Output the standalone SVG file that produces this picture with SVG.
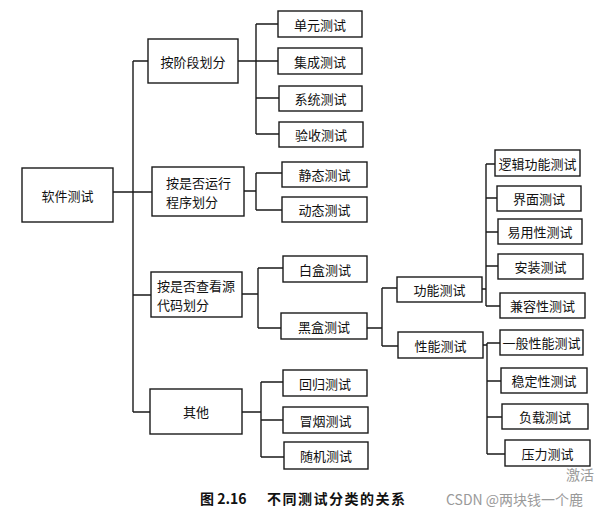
<svg xmlns="http://www.w3.org/2000/svg" width="615" height="516" viewBox="0 0 615 516">
<style>
.box{fill:#fff;stroke:#1a1a1a;stroke-width:1.4}
.t{font-family:"Noto Sans CJK SC","Noto Sans CJK JP",sans-serif;font-size:13px;fill:#111;text-anchor:middle;dominant-baseline:central}
.tl{font-family:"Noto Sans CJK SC","Noto Sans CJK JP",sans-serif;font-size:13px;fill:#111;dominant-baseline:central}
.cap{font-family:"Noto Sans CJK SC","Noto Sans CJK JP",sans-serif;font-size:14px;font-weight:bold;fill:#111}
.wm{font-family:"Noto Sans CJK SC","Noto Sans CJK JP",sans-serif;font-size:14px;fill:#9a9a9a}
#connectors path{fill:none;stroke:#1a1a1a;stroke-width:1.4}
</style>
<rect width="615" height="516" fill="#fff"/>
<g id="connectors">
<path d="M113 192H133M133 61V412M133 61H148M133 192H152M133 295H151M133 412H150"/>
<path d="M238 61H256M256 24V134M256 24H278M256 61H278M256 98H279M256 134H279"/>
<path d="M244 191H256M256 173V210M256 173H282M256 210H282"/>
<path d="M242 294H258M258 268V328M258 268H283M258 328H281"/>
<path d="M367 328H382M382 288V346M382 288H397M382 346H398"/>
<path d="M482 289H486M486 164V306M486 164H495M486 198H497M486 232H498M486 266H498M486 306H500"/>
<path d="M483 345H487M487 343V454M487 343H500M487 381H501M487 417H502M487 454H505"/>
<path d="M242 412H261M261 382V457M261 382H283M261 420H283M261 457H284"/>
</g>
<g id="n-root"><rect class="box" x="22" y="168" width="91" height="54"/><text class="t" x="67.5" y="195">软件测试</text></g>
<g id="n-stage"><rect class="box" x="148" y="39" width="90" height="44"/><text class="t" x="193" y="61">按阶段划分</text></g>
<g id="n-unit"><rect class="box" x="278" y="11" width="84" height="26"/><text class="t" x="320" y="24">单元测试</text></g>
<g id="n-integ"><rect class="box" x="278" y="48" width="84" height="26"/><text class="t" x="320" y="61">集成测试</text></g>
<g id="n-sys"><rect class="box" x="279" y="86" width="83" height="25"/><text class="t" x="320.5" y="98.5">系统测试</text></g>
<g id="n-accept"><rect class="box" x="279" y="122" width="84" height="25"/><text class="t" x="321" y="134.5">验收测试</text></g>
<g id="n-run"><rect class="box" x="152" y="167" width="92" height="49"/><text class="tl" x="166" y="182">按是否运行</text><text class="tl" x="166" y="201">程序划分</text></g>
<g id="n-static"><rect class="box" x="282" y="162" width="85" height="25"/><text class="t" x="324.5" y="174.5">静态测试</text></g>
<g id="n-dynamic"><rect class="box" x="282" y="197" width="85" height="25"/><text class="t" x="324.5" y="209.5">动态测试</text></g>
<g id="n-source"><rect class="box" x="151" y="272" width="91" height="45"/><text class="tl" x="157" y="285.5">按是否查看源</text><text class="tl" x="157" y="304.5">代码划分</text></g>
<g id="n-white"><rect class="box" x="283" y="256" width="84" height="26"/><text class="t" x="325" y="269">白盒测试</text></g>
<g id="n-black"><rect class="box" x="281" y="313" width="86" height="26"/><text class="t" x="324" y="326">黑盒测试</text></g>
<g id="n-func"><rect class="box" x="397" y="277" width="85" height="25"/><text class="t" x="439.5" y="289.5">功能测试</text></g>
<g id="n-perf"><rect class="box" x="398" y="332" width="85" height="26"/><text class="t" x="440.5" y="345">性能测试</text></g>
<g id="n-logic"><rect class="box" x="495" y="150" width="85" height="26"/><text class="t" x="537.5" y="163">逻辑功能测试</text></g>
<g id="n-ui"><rect class="box" x="497" y="186" width="84" height="25"/><text class="t" x="539" y="198.5">界面测试</text></g>
<g id="n-usab"><rect class="box" x="498" y="219" width="84" height="25"/><text class="t" x="540" y="231.5">易用性测试</text></g>
<g id="n-install"><rect class="box" x="498" y="254" width="85" height="25"/><text class="t" x="540.5" y="266.5">安装测试</text></g>
<g id="n-compat"><rect class="box" x="500" y="293" width="85" height="25"/><text class="t" x="542.5" y="305.5">兼容性测试</text></g>
<g id="n-general"><rect class="box" x="500" y="330" width="83" height="25"/><text class="t" x="541.5" y="342.5">一般性能测试</text></g>
<g id="n-stable"><rect class="box" x="501" y="368" width="86" height="25"/><text class="t" x="544" y="380.5">稳定性测试</text></g>
<g id="n-load"><rect class="box" x="502" y="404" width="86" height="25"/><text class="t" x="545" y="416.5">负载测试</text></g>
<g id="n-stress"><rect class="box" x="505" y="440" width="85" height="26"/><text class="t" x="547.5" y="453">压力测试</text></g>
<g id="n-other"><rect class="box" x="150" y="389" width="92" height="45"/><text class="t" x="196" y="411.5">其他</text></g>
<g id="n-regress"><rect class="box" x="283" y="370" width="84" height="26"/><text class="t" x="325" y="383">回归测试</text></g>
<g id="n-smoke"><rect class="box" x="283" y="407" width="85" height="26"/><text class="t" x="325.5" y="420">冒烟测试</text></g>
<g id="n-random"><rect class="box" x="284" y="442" width="84" height="27"/><text class="t" x="326" y="455.5">随机测试</text></g>
<text class="cap" x="200" y="504">图 2.16</text>
<text class="cap" x="267" y="504" letter-spacing="1.5">不同测试分类的关系</text>
<text class="wm" x="566" y="480" font-size="17" fill="#c4c4c4">激活</text>
<text class="wm" x="446" y="505">CSDN @两块钱一个鹿</text>
</svg>
